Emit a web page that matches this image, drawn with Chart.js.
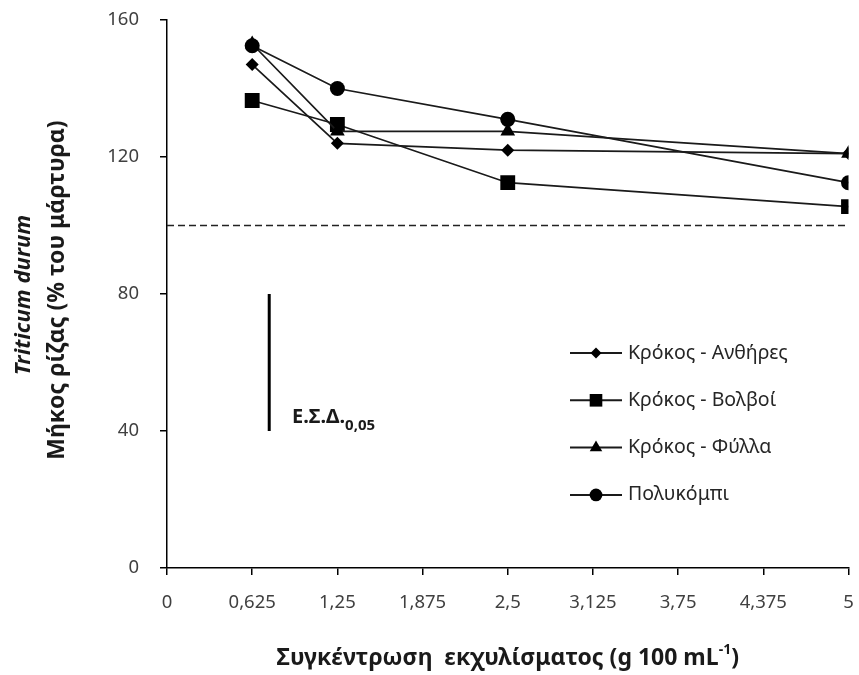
<!DOCTYPE html>
<html>
<head>
<meta charset="utf-8">
<script src="https://cdn.jsdelivr.net/npm/chart.js@4.4.0/dist/chart.umd.min.js"></script>
<style>
  body { margin: 0; background: #fff; }
  #wrap { width: 859px; height: 675px; }
</style>
</head>
<body>
<div id="wrap"><canvas id="chart" width="859" height="675"></canvas></div>
<script>
// ================== DATA ==================
const xValues = [0.625, 1.25, 2.5, 5];
const antheres = [147, 124, 122, 121];     // Κρόκος - Ανθήρες
const volvoi = [136.5, 129.5, 112.5, 105.5]; // Κρόκος - Βολβοί
const fylla = [153, 127.5, 127.5, 121];      // Κρόκος - Φύλλα
const polykompi = [152.5, 140, 131, 112.5];  // Πολυκόμπι
const seriesNames = ['Κρόκος - Ανθήρες', 'Κρόκος - Βολβοί', 'Κρόκος - Φύλλα', 'Πολυκόμπι'];
const xTickLabels = ['0', '0,625', '1,25', '1,875', '2,5', '3,125', '3,75', '4,375', '5'];
const yTickValues = [0, 40, 80, 120, 160];
const controlLevel = 100;
const lsdX = 0.75;
const lsdRange = [40, 80];

const FONT = '"Noto Sans", "Open Sans", sans-serif';
const INK = '#1a1a1a';

// ================== HELPERS ==================
function toPoints(ys){
  return ys.map((y, i) => ({ x: xValues[i], y }));
}

const markers = [
  { style: 'rectRot', radius: 6.5 },
  { style: 'rect', radius: 10.5 },
  { style: 'triangle', radius: 8.5 },
  { style: 'circle', radius: 7.5 }
];
const seriesData = [antheres, volvoi, fylla, polykompi];

const seriesSets = seriesData.map((ys, i) => ({
  label: seriesNames[i],
  data: toPoints(ys),
  showLine: true,
  borderColor: INK,
  backgroundColor: '#000',
  borderWidth: 1.7,
  pointStyle: markers[i].style,
  pointRadius: markers[i].radius,
  pointHoverRadius: markers[i].radius,
  pointBorderWidth: 0,
  order: 3 - i
}));

// control line at 100% and LSD bar
const extraSets = [
  {
    label: 'control',
    data: [{ x: 0, y: controlLevel }, { x: 5, y: controlLevel }],
    showLine: true,
    borderColor: '#222',
    borderWidth: 1.4,
    borderDash: [7, 4],
    pointRadius: 0,
    order: 10
  },
  {
    label: 'lsd',
    data: [{ x: lsdX, y: lsdRange[0] }, { x: lsdX, y: lsdRange[1] }],
    showLine: true,
    borderColor: '#000',
    borderWidth: 3,
    pointRadius: 0,
    order: 10
  }
];

// ================== TEXT + LEGEND PLUGIN ==================
const annotations = {
  id: 'annotations',
  afterDraw(chart){
    const ctx = chart.ctx;
    const area = chart.chartArea;
    const midY = (area.top + area.bottom) / 2;
    ctx.save();
    ctx.fillStyle = INK;
    ctx.textAlign = 'center';
    ctx.textBaseline = 'middle';

    // y title, two lines
    ctx.save();
    ctx.translate(24, midY + 1);
    ctx.rotate(-Math.PI / 2);
    ctx.font = 'italic bold 22px ' + FONT;
    ctx.fillText('Triticum durum', 0, 0);
    ctx.restore();
    ctx.save();
    ctx.translate(57, midY - 4);
    ctx.rotate(-Math.PI / 2);
    ctx.font = 'bold 23px ' + FONT;
    ctx.fillText('Μήκος ρίζας (% του μάρτυρα)', 0, 0);
    ctx.restore();

    // x title with superscript
    ctx.font = 'bold 23px ' + FONT;
    const main = 'Συγκέντρωση  εκχυλίσματος (g 100 mL';
    const wMain = ctx.measureText(main).width;
    ctx.font = 'bold 14px ' + FONT;
    const wSup = ctx.measureText('-1').width;
    ctx.font = 'bold 23px ' + FONT;
    const wEnd = ctx.measureText(')').width;
    let x0 = (area.left + area.right) / 2 - (wMain + wSup + wEnd) / 2;
    ctx.textAlign = 'left';
    ctx.fillText(main, x0, 658);
    ctx.font = 'bold 14px ' + FONT;
    ctx.fillText('-1', x0 + wMain, 650);
    ctx.font = 'bold 23px ' + FONT;
    ctx.fillText(')', x0 + wMain + wSup, 658);

    // LSD label
    ctx.font = 'bold 20px ' + FONT;
    ctx.fillText('Ε.Σ.Δ.', 292, 417);
    const wL = ctx.measureText('Ε.Σ.Δ.').width;
    ctx.font = 'bold 15px ' + FONT;
    ctx.fillText('0,05', 292 + wL, 426);

    // legend
    const legX = 570, legW = 52, legY0 = 353, legStep = 47.3;
    seriesNames.forEach((name, i) => {
      const y = legY0 + i * legStep;
      ctx.strokeStyle = INK;
      ctx.lineWidth = 2;
      ctx.beginPath();
      ctx.moveTo(legX, y);
      ctx.lineTo(legX + legW, y);
      ctx.stroke();
      ctx.fillStyle = '#000';
      Chart.helpers.drawPoint(ctx, {
        pointStyle: markers[i].style,
        radius: markers[i].radius * 0.85,
        rotation: 0,
        borderWidth: 0
      }, legX + legW / 2, y);
      ctx.fillStyle = '#262626';
      ctx.font = '19.5px ' + FONT;
      ctx.textAlign = 'left';
      ctx.fillText(name, legX + legW + 6, y);
    });
    ctx.restore();
  }
};

// ================== CHART ==================
new Chart(document.getElementById('chart').getContext('2d'), {
  type: 'scatter',
  data: { datasets: seriesSets.concat(extraSets) },
  options: {
    responsive: false,
    animation: false,
    layout: { padding: { left: 0, right: 8, top: 20, bottom: 0 } },
    plugins: { legend: { display: false }, tooltip: { enabled: false } },
    scales: {
      x: {
        type: 'linear',
        min: 0,
        max: 5,
        afterFit(scale){
          scale.height = 107;
          scale.paddingLeft = 0;
          scale.paddingRight = 0;
        },
        afterBuildTicks(scale){
          scale.ticks = xTickLabels.map((_, i) => ({ value: i * 0.625 }));
        },
        ticks: {
          autoSkip: false,
          maxRotation: 0,
          padding: 17,
          color: '#404040',
          font: { family: FONT, size: 18.5 },
          callback: (v, i) => xTickLabels[i]
        },
        grid: { drawOnChartArea: false, drawTicks: true, tickLength: 7, color: '#000', lineWidth: 1.5 },
        border: { display: true, color: '#000', width: 1.5 }
      },
      y: {
        min: 0,
        max: 160,
        afterFit(scale){
          scale.width = 167;
          scale.paddingTop = 0;
          scale.paddingBottom = 0;
        },
        afterBuildTicks(scale){
          scale.ticks = yTickValues.map(v => ({ value: v }));
        },
        ticks: {
          padding: 21,
          color: '#404040',
          font: { family: FONT, size: 18.5 }
        },
        grid: { drawOnChartArea: false, drawTicks: true, tickLength: 7, color: '#000', lineWidth: 1.5 },
        border: { display: true, color: '#000', width: 1.5 }
      }
    }
  },
  plugins: [annotations]
});
</script>
</body>
</html>
